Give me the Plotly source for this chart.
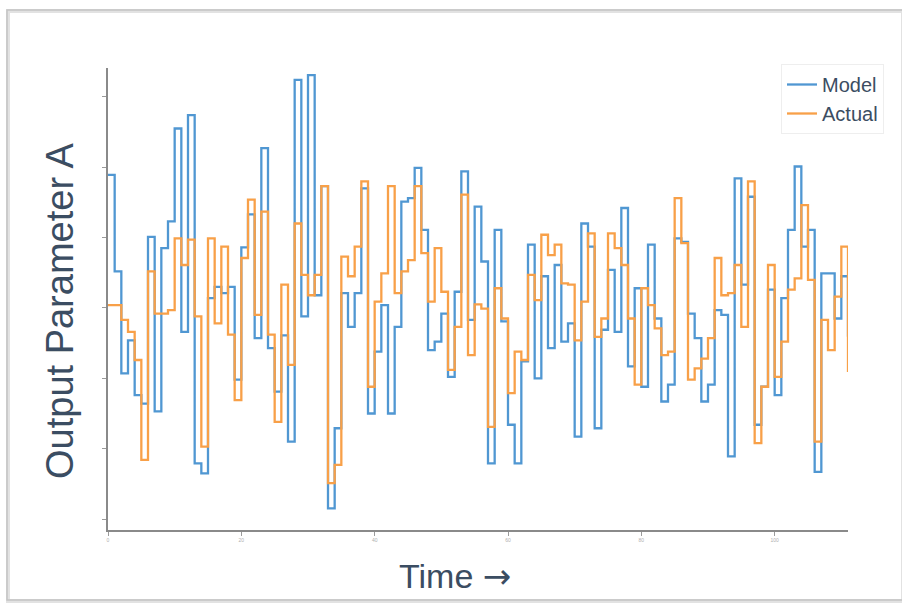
import plotly.graph_objects as go

# time steps (one value per step, step shape)
time = list(range(112))

model = [4.89, 3.52, 2.07, 2.54, 1.76, 1.64, 4.01, 1.53, 3.85, 4.23,
         5.55, 2.66, 5.74, 0.79, 0.65, 3.14, 3.30, 3.21, 3.30, 1.98,
         3.86, 4.33, 2.57, 5.27, 2.43, 1.81, 2.61, 1.10, 6.24, 2.88,
         6.31, 3.18, 4.73, 0.15, 1.29, 3.21, 2.73, 3.21, 4.70, 1.50,
         2.38, 3.04, 1.50, 2.73, 4.51, 4.56, 4.99, 4.11, 2.40, 2.52,
         2.92, 2.02, 3.23, 4.94, 2.83, 4.44, 3.66, 0.79, 4.11, 2.81,
         1.34, 0.79, 2.24, 3.90, 2.00, 3.45, 2.43, 3.61, 2.52, 2.78,
         1.17, 4.20, 3.87, 1.29, 2.69, 3.54, 2.66, 4.42, 2.17, 3.28,
         1.88, 3.90, 2.85, 1.67, 1.91, 3.99, 3.94, 2.92, 2.57, 1.67,
         1.91, 2.97, 2.90, 0.89, 4.84, 3.33, 4.58, 1.34, 1.88, 3.26,
         1.76, 3.14, 4.11, 5.01, 3.87, 4.11, 0.67, 3.49, 3.49, 2.85,
         3.45, 2.59]

actual = [3.04, 3.04, 2.83, 2.66, 2.26, 0.84, 3.52, 2.92, 2.92, 2.97,
          3.99, 3.61, 3.97, 2.88, 1.03, 3.99, 2.78, 3.87, 2.62, 1.69,
          3.71, 4.54, 2.90, 4.37, 2.62, 1.38, 3.33, 2.19, 4.20, 3.47,
          3.18, 3.47, 4.73, 0.51, 0.77, 3.73, 3.45, 3.87, 4.80, 1.88,
          3.09, 3.49, 4.73, 3.21, 3.52, 3.68, 4.73, 3.78, 3.09, 3.85,
          3.23, 2.12, 2.73, 4.61, 2.33, 3.05, 2.99, 1.31, 3.28, 2.85,
          1.79, 2.38, 2.26, 3.47, 3.11, 4.04, 3.75, 3.90, 3.35, 3.33,
          2.54, 3.09, 4.06, 2.59, 2.85, 4.06, 3.85, 3.61, 2.85, 1.91,
          3.28, 3.04, 2.71, 2.33, 2.38, 4.56, 3.92, 1.98, 2.14, 2.28,
          2.57, 3.71, 3.18, 3.21, 3.61, 2.73, 4.80, 1.08, 1.88, 3.61,
          2.02, 2.52, 3.26, 3.42, 4.46, 3.40, 1.10, 2.83, 2.40, 3.16,
          3.87, 2.09]

x_ticks = [0, 20, 40, 60, 80, 100]
x_tick_text = ["0", "20", "40", "60", "80", "100"]
y_ticks = [0, 1, 2, 3, 4, 5, 6]

BLUE = "#5097d2"
ORANGE = "#f8a048"
TEXT = "#3b4d62"

fig = go.Figure()
fig.add_trace(go.Scatter(x=time, y=model, mode="lines", name="Model",
                         line=dict(color=BLUE, width=2.3, shape="hv")))
fig.add_trace(go.Scatter(x=time, y=actual, mode="lines", name="Actual",
                         line=dict(color=ORANGE, width=2.3, shape="hv")))

L, T, R, B = 108, 68, 54, 77
W, H = 902, 607
pw, ph = W - L - R, H - T - B

def px(x):
    return (x - L) / pw

def py(y):
    return (H - B - y) / ph

fig.update_layout(
    width=W, height=H,
    margin=dict(l=L, r=R, t=T, b=B),
    paper_bgcolor="white", plot_bgcolor="white",
    font=dict(family="Liberation Sans, Arial, sans-serif", color=TEXT),
    showlegend=True,
    legend=dict(x=px(781), y=py(64), xanchor="left", yanchor="top",
                font=dict(size=20, color=TEXT), bgcolor="white",
                bordercolor="#eeeeee", borderwidth=1,
                tracegroupgap=0, itemwidth=30),
    xaxis=dict(range=[0, 111], showgrid=False, zeroline=False,
               showline=True, linecolor="#8a8a8a", linewidth=1.5,
               ticks="outside", ticklen=4, tickcolor="#9a9a9a",
               tickvals=x_ticks, ticktext=x_tick_text,
               tickfont=dict(size=5, color="#b0b0b0")),
    yaxis=dict(range=[-0.156, 6.41], showgrid=False, zeroline=False,
               showline=True, linecolor="#8a8a8a", linewidth=1.5,
               ticks="outside", ticklen=4, tickcolor="#9a9a9a",
               tickvals=y_ticks, showticklabels=False),
    annotations=[
        dict(text="Output Parameter A", xref="paper", yref="paper",
             x=px(60), y=py(311), textangle=-90, showarrow=False,
             font=dict(size=38, color=TEXT), xanchor="center", yanchor="middle"),
        dict(text="Time <span style='font-family:DejaVu Sans'>\u2192</span>",
             xref="paper", yref="paper",
             x=px(455), y=py(576), showarrow=False,
             font=dict(size=34, color=TEXT), xanchor="center", yanchor="middle"),
    ],
    shapes=[
        dict(type="rect", xref="paper", yref="paper",
             x0=px(8), x1=px(903), y0=py(601), y1=py(11),
             line=dict(color="#e2e2e2", width=4), layer="below"),
        dict(type="rect", xref="paper", yref="paper",
             x0=px(7), x1=px(903), y0=py(600), y1=py(10),
             line=dict(color="#c4c4c4", width=1.5), layer="below"),
    ],
)

fig.write_html("out.html")
